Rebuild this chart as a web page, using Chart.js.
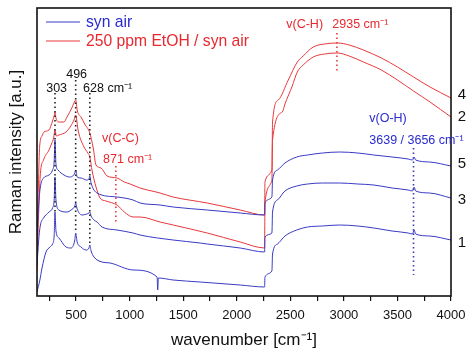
<!DOCTYPE html>
<html><head><meta charset="utf-8">
<script src="https://cdn.jsdelivr.net/npm/chart.js@4.4.1/dist/chart.umd.min.js"></script>
<style>html,body{margin:0;padding:0;background:#fff;}</style>
</head><body>
<canvas id="c" width="474" height="357"></canvas>
<script>
// ---- data (wavenumber in cm^-1, intensity in arbitrary units) ----
const c1X = [135,160,182,219,256,280,295,303,312,340,406,453,488,496,510,546,593,620,628,640,667,742,817,1032,1256,1262,1268,1406,1658,2032,2260,2263,2328,2334,2380,2450,2560,2660,2800,2960,3130,3280,3450,3600,3640,3656,3670,3800,4000];
const c1Y = [4,15,28,44,49,52,60,84,65,58,49,48,56,63,54,49,46,48,51,45,39,34,33,26,19,6,18,16,14,11,9,19,25,42,52,60,66,69,70,71,70,68,65,63,62,66,62,60,56];

const c3X = [135,150,165,196,247,280,295,303,312,340,415,453,488,496,510,555,600,620,628,640,667,696,742,882,1032,1097,1406,1658,1724,2032,2260,2263,2328,2334,2380,2450,2560,2660,2800,2960,3130,3280,3450,3600,3640,3656,3670,3800,4000];
const c3Y = [30,55,70,78,84,88,96,119,96,86,84,86,90,93,87,81,82,83,84,80,76,74,69,66,63,61,56,53,52,48,44,59,63,84,96,105,110,112,113,113,112,111,108,106,105,109,105,103,98];

const c5X = [135,150,165,196,247,280,295,303,312,331,387,440,488,496,510,546,600,620,628,640,696,882,1032,1097,1284,1406,1724,2032,2260,2263,2328,2334,2380,2450,2560,2660,2800,2960,3130,3280,3450,3600,3640,3656,3670,3800,4000];
const c5Y = [60,90,108,118,121,126,134,156,132,126,121,119,123,126,119,118,116,117,120,113,103,99,96,93,91,89,86,83,81,93,99,116,126,133,139,141,143,144,143,141,139,137,136,139,136,134,130];

const c2X = [135,150,165,196,247,270,290,303,315,340,406,450,480,496,520,574,610,628,650,686,724,780,882,950,1032,1097,1284,1406,1724,2032,2260,2263,2328,2334,2425,2450,2518,2565,2620,2714,2820,2938,3050,3182,3350,3500,3650,3804,4000];
const c2Y = [25,80,120,136,146,152,158,166,160,161,164,170,176,181,165,149,143,139,125,109,98,95,91,84,79,79,74,71,63,54,48,93,116,156,184,192,210,224,231,239,242,243,240,234,226,216,205,194,179];

const c4X = [135,148,160,182,200,247,280,295,303,312,340,387,415,460,480,496,512,546,580,628,660,686,733,789,882,950,1004,1097,1284,1406,1724,2032,2260,2263,2328,2334,2388,2481,2565,2620,2714,2820,2938,3050,3182,3350,3500,3650,3804,4000];
const c4Y = [40,110,150,160,164,166,175,180,184,178,174,174,179,188,193,196,185,179,172,163,148,131,128,120,118,114,112,108,103,99,93,86,81,114,126,174,196,216,234,240,249,252,253,251,246,238,229,219,209,198];

// marker lines: [wavenumber, from, to]
const markBlack = [[303,203,84],[496,216,63],[628,203,51]];
const markCC = [871,130,73];
const markCH = [2935,263,224];
const markOH = [3650,148,21];

const xTicks = [250,500,750,1000,1250,1500,1750,2000,2250,2500,2750,3000,3250,3500,3750,4000];
const legendLabels = ['syn air','250 ppm EtOH / syn air'];
const curveNames = ['4','2','5','3','1'];
const curveNameVals = [201,179,132,96,53];

const BLUE = '#3a3ac4', RED = '#e8383c';
const FONT = '"Liberation Sans", Arial, sans-serif';

const pts = (xs, ys) => xs.map((x, i) => ({x: x, y: ys[i]}));
const line = (xs, ys, color) => ({data: pts(xs, ys), borderColor: color, borderWidth: 1, pointRadius: 0, fill: false, cubicInterpolationMode: 'monotone'});
const mark = (m, color) => ({data: [{x: m[0], y: m[1]}, {x: m[0], y: m[2]}], borderColor: color, borderWidth: 1.6, borderDash: [1.5, 3], pointRadius: 0, fill: false});

const datasets = [
  mark(markBlack[0], '#222'), mark(markBlack[1], '#222'), mark(markBlack[2], '#222'),
  line(c1X, c1Y, BLUE), line(c3X, c3Y, BLUE), line(c5X, c5Y, BLUE),
  line(c2X, c2Y, RED), line(c4X, c4Y, RED),
  mark(markCC, RED), mark(markCH, RED), mark(markOH, BLUE)
];

const annot = {
  id: 'annot',
  afterDraw(chart) {
    const {ctx, chartArea: a, scales: {x, y}} = chart;
    ctx.save();
    // frame
    ctx.strokeStyle = '#111'; ctx.lineWidth = 1.6;
    ctx.strokeRect(a.left, a.top, a.right - a.left, a.bottom - a.top);
    // legend
    ctx.textBaseline = 'middle'; ctx.textAlign = 'left';
    ctx.font = '15.7px ' + FONT;
    const lg = [[BLUE, '#2a2ad0', 22], [RED, '#e8282e', 41]];
    lg.forEach((l, i) => {
      ctx.strokeStyle = l[0]; ctx.lineWidth = 1.2;
      ctx.beginPath(); ctx.moveTo(a.left + 9, l[2]); ctx.lineTo(a.left + 43, l[2]); ctx.stroke();
      ctx.fillStyle = l[1]; ctx.fillText(legendLabels[i], a.left + 49, l[2] + 1);
    });
    const txt = (s, wx, vy, color, size, align) => {
      ctx.fillStyle = color; ctx.font = size + 'px ' + FONT; ctx.textAlign = align || 'left';
      ctx.fillText(s, x.getPixelForValue(wx), y.getPixelForValue(vy));
    };
    txt('303', 318, 207, '#111', 12.5, 'center');
    txt('496', 505, 221, '#111', 12.5, 'center');
    txt('628 cm⁻¹', 565, 207, '#111', 12.5);
    txt('v(C-C)', 742, 157, '#e8282e', 12.5);
    txt('871 cm⁻¹', 752, 136, '#e8282e', 12.5);
    txt('v(C-H)', 2462, 271, '#e8282e', 12.5);
    txt('2935 cm⁻¹', 2892, 271, '#e8282e', 12.5);
    txt('v(O-H)', 3237, 177, '#2a2ad0', 12.5);
    txt('3639 / 3656 cm⁻¹', 3237, 155, '#2a2ad0', 12.5);
    ctx.fillStyle = '#111'; ctx.font = '15px ' + FONT; ctx.textAlign = 'center';
    curveNames.forEach((n, i) => ctx.fillText(n, a.right + 11, y.getPixelForValue(curveNameVals[i])));
    ctx.restore();
  }
};

new Chart(document.getElementById('c'), {
  type: 'line',
  data: {datasets: datasets},
  plugins: [annot],
  options: {
    responsive: false, animation: false,
    layout: {padding: {top: 8, right: 23, left: 0, bottom: 0}},
    plugins: {legend: {display: false}, tooltip: {enabled: false}},
    scales: {
      x: {
        type: 'linear', min: 135, max: 4000,
        afterBuildTicks(s) { s.ticks = xTicks.map(v => ({value: v})); },
        afterFit(s) { s.height = 61; },
        ticks: {autoSkip: false, maxRotation: 0, padding: 7, color: '#111', font: {size: 13, family: FONT},
                callback: v => (v % 500 === 0 ? String(v) : '')},
        grid: {display: true, drawOnChartArea: false, drawTicks: true, tickLength: 5, color: '#111', lineWidth: 1.2},
        border: {display: false},
        title: {display: true, text: 'wavenumber [cm⁻¹]', color: '#111', font: {size: 17, family: FONT}, padding: {top: 0, bottom: 6}}
      },
      y: {
        min: 0, max: 288,
        afterFit(s) { s.width = 37; },
        ticks: {display: false},
        grid: {display: false},
        border: {display: false},
        title: {display: true, text: 'Raman intensity [a.u.]', color: '#111', font: {size: 17, family: FONT}, padding: {top: 6, bottom: 0}}
      }
    }
  }
});
</script>
</body></html>
